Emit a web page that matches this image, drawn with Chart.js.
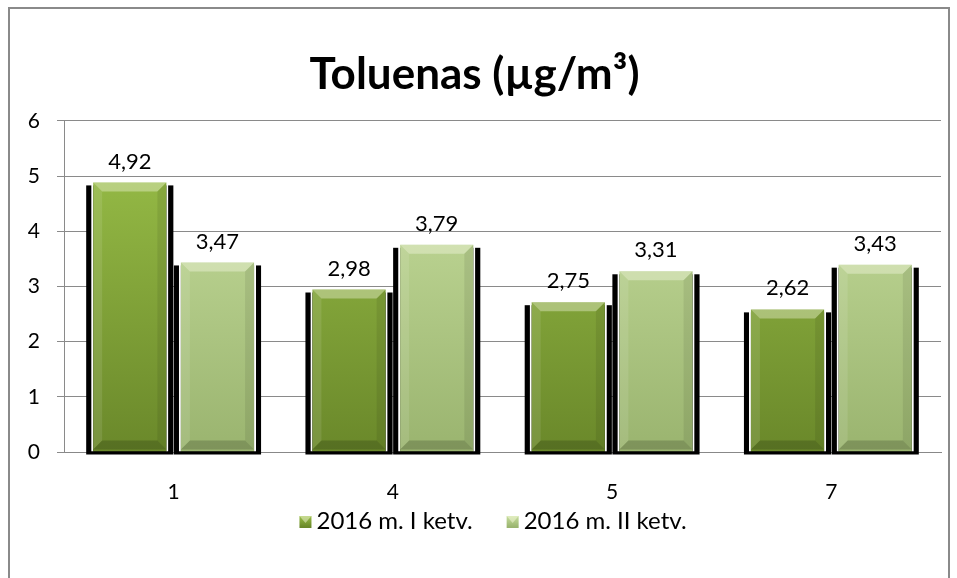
<!DOCTYPE html>
<html><head><meta charset="utf-8">
<script src="https://cdn.jsdelivr.net/npm/chart.js@4"></script>
<style>html,body{margin:0;padding:0;background:#fff;}#wrap{position:absolute;left:0;top:0;width:957px;height:578px;}</style>
</head><body><div id="wrap"><canvas id="c" width="957" height="578"></canvas></div>
<script>
const categories = ['1', '4', '5', '7'];
const seriesNames = ['2016 m. I ketv.', '2016 m. II ketv.'];
const seriesI = [4.92, 2.98, 2.75, 2.62];
const seriesII = [3.47, 3.79, 3.31, 3.43];
const yTicks = [0, 1, 2, 3, 4, 5, 6];
const titleText = 'Toluenas (µg/m³)';

const FONT = 'Lato, "Open Sans", sans-serif';
const palettes = [
  {top: '#9cc24a', bottom: '#6a882a'},
  {top: '#cbe2a2', bottom: '#9ab46f'}
];

function grad(ctx, top, bottom, p) {
  const g = ctx.createLinearGradient(0, top, 0, bottom);
  g.addColorStop(0, p.top);
  g.addColorStop(1, p.bottom);
  return g;
}

const framePlugin = {
  id: 'frame',
  beforeDraw(chart) {
    const c = chart.ctx;
    c.save();
    c.fillStyle = '#fff';
    c.fillRect(0, 0, chart.width, chart.height);
    c.strokeStyle = '#8a8a8a';
    c.lineWidth = 2;
    c.strokeRect(9, 8, 940, 580);
    c.restore();
  }
};

const shadowPlugin = {
  id: 'barShadow',
  beforeDatasetsDraw(chart) {
    const c = chart.ctx;
    c.save();
    c.fillStyle = '#000';
    chart.data.datasets.forEach((ds, i) => {
      chart.getDatasetMeta(i).data.forEach(bar => {
        const l = bar.x - bar.width / 2, r = bar.x + bar.width / 2;
        c.fillRect(l - 5, bar.y + 5, (r - l) + 10, bar.base - bar.y - 2);
      });
    });
    c.restore();
  },
  afterDatasetsDraw(chart) {
    const c = chart.ctx;
    c.save();
    chart.data.datasets.forEach((ds, i) => {
      chart.getDatasetMeta(i).data.forEach(bar => {
        const l = bar.x - bar.width / 2 + 2, r = bar.x + bar.width / 2 - 2;
        const t = bar.y + 2, b = bar.base - 2, d = 9;
        const poly = (pts, col) => {
          c.beginPath();
          c.moveTo(pts[0][0], pts[0][1]);
          for (let k = 1; k < pts.length; k++) c.lineTo(pts[k][0], pts[k][1]);
          c.closePath();
          c.fillStyle = col;
          c.fill();
        };
        poly([[l, t], [r, t], [r - d, t + d], [l + d, t + d]], 'rgba(255,255,240,0.35)');
        poly([[l, t], [l + d, t + d], [l + d, b - d], [l, b]], 'rgba(255,255,255,0.10)');
        poly([[r, t], [r, b], [r - d, b - d], [r - d, t + d]], 'rgba(0,0,0,0.08)');
        poly([[l, b], [l + d, b - d], [r - d, b - d], [r, b]], 'rgba(0,0,0,0.18)');
      });
    });
    c.restore();
  }
};

const labelPlugin = {
  id: 'valueLabels',
  afterDatasetsDraw(chart) {
    const c = chart.ctx;
    c.save();
    c.font = '22px ' + FONT;
    c.fillStyle = '#000';
    c.textAlign = 'center';
    c.textBaseline = 'middle';
    chart.data.datasets.forEach((ds, i) => {
      chart.getDatasetMeta(i).data.forEach((bar, j) => {
        c.fillText(ds.data[j].toFixed(2).replace('.', ','), bar.x, bar.y - 19);
      });
    });
    c.restore();
  }
};

const legendPlugin = {
  id: 'customLegend',
  afterDraw(chart) {
    const c = chart.ctx;
    c.save();
    c.font = '24px ' + FONT;
    c.textBaseline = 'middle';
    c.textAlign = 'left';
    const box = 12, gapText = 5, gapItem = 34, cy = 521;
    const widths = chart.data.datasets.map(ds => c.measureText(ds.label).width);
    let total = 0;
    widths.forEach((w, i) => { total += box + gapText + w + (i ? gapItem : 0); });
    let x = 493 - total / 2;
    chart.data.datasets.forEach((ds, i) => {
      c.fillStyle = grad(c, cy - box / 2, cy + box / 2, palettes[i]);
      c.fillRect(x, cy - box / 2 + 1, box, box);
      c.fillStyle = 'rgba(255,255,230,0.45)';
      c.beginPath();
      c.moveTo(x, cy - box / 2 + 1); c.lineTo(x + box, cy - box / 2 + 1);
      c.lineTo(x + box / 2, cy + 2); c.closePath(); c.fill();
      c.fillStyle = '#000';
      c.fillText(ds.label, x + box + gapText, cy);
      x += box + gapText + widths[i] + gapItem;
    });
    c.restore();
  }
};

new Chart(document.getElementById('c'), {
  type: 'bar',
  data: {
    labels: categories,
    datasets: [
      {label: seriesNames[0], data: seriesI,
       backgroundColor: ctx => { const a = ctx.chart.chartArea; return a ? grad(ctx.chart.ctx, a.top, a.bottom, palettes[0]) : palettes[0].bottom; },
       borderColor: '#ffffff', borderWidth: 2,
       categoryPercentage: 0.8, barPercentage: 0.88},
      {label: seriesNames[1], data: seriesII,
       backgroundColor: ctx => { const a = ctx.chart.chartArea; return a ? grad(ctx.chart.ctx, a.top, a.bottom, palettes[1]) : palettes[1].bottom; },
       borderColor: '#ffffff', borderWidth: 2,
       categoryPercentage: 0.8, barPercentage: 0.88}
    ]
  },
  options: {
    responsive: false,
    animation: false,
    devicePixelRatio: 1,
    layout: {padding: {left: 8, right: 16, top: 0, bottom: 78}},
    plugins: {
      title: {display: true, text: titleText, color: '#000',
        font: {family: FONT, size: 44, weight: 'bold'},
        padding: {top: 48, bottom: 20}},
      legend: {display: false},
      tooltip: {enabled: false}
    },
    scales: {
      x: {
        grid: {display: false, drawTicks: false},
        border: {color: '#888', width: 1},
        ticks: {color: '#000', font: {family: FONT, size: 21}, padding: 28},
        afterFit(s) { s.height = 48; }
      },
      y: {
        min: 0, max: 6,
        afterBuildTicks(s) { s.ticks = yTicks.map(v => ({value: v})); },
        grid: {color: '#8a8a8a', tickLength: 7, tickColor: '#8a8a8a'},
        border: {color: '#8a8a8a', width: 1},
        ticks: {color: '#000', font: {family: FONT, size: 21}, padding: 17},
        afterFit(s) { s.width = 56; }
      }
    }
  },
  plugins: [framePlugin, shadowPlugin, labelPlugin, legendPlugin]
});
</script></body></html>
